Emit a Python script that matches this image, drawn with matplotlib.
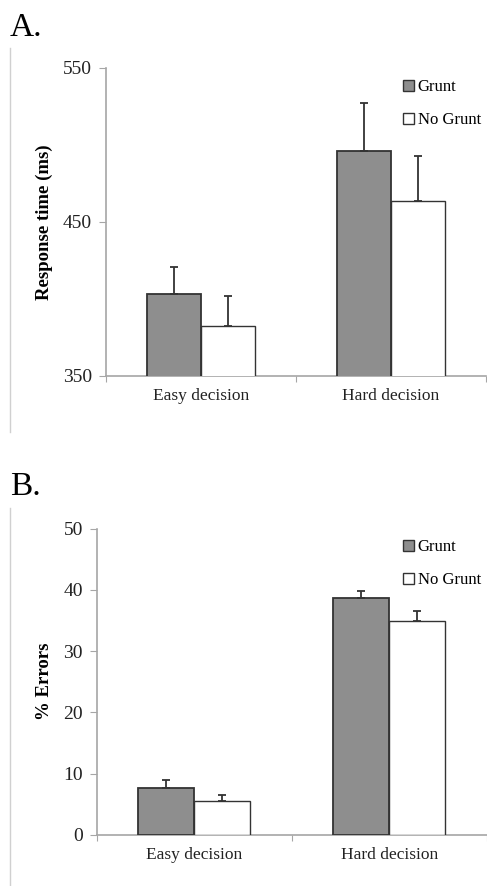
import matplotlib
matplotlib.use("Agg")
import matplotlib.pyplot as plt
import numpy as np
from matplotlib.lines import Line2D
from matplotlib.patches import Patch

categories = ["Easy decision", "Hard decision"]
series = ["Grunt", "No Grunt"]

# Panel A: response time (ms)
rt_grunt = [403, 496]
rt_nogrunt = [382.5, 463.5]
rt_grunt_err = [18, 31]
rt_nogrunt_err = [19.5, 29.5]

# Panel B: % errors
err_grunt = [7.7, 38.7]
err_nogrunt = [5.55, 35.0]
err_grunt_err = [1.3, 1.2]
err_nogrunt_err = [0.95, 1.5]

W, H = 487, 886
fig = plt.figure(figsize=(W / 100, H / 100), dpi=100)
plt.rcParams["font.family"] = ["Liberation Serif", "DejaVu Serif"]

GREY = "#8e8e8e"
EDGE = "#333333"
SPINE = "#a6a6a6"


def draw_panel(rect, g, ng, ge, nge, ylim, yticks, ylabel, bw, leg_y):
    ax = fig.add_axes(rect)
    x = np.arange(len(categories))
    ekw = dict(ecolor=EDGE, elinewidth=1.3, capsize=3, capthick=1.3)
    ax.bar(x - bw / 2, g, bw, color=GREY, edgecolor=EDGE, linewidth=1.3,
           yerr=[np.zeros(len(ge)), ge], error_kw=ekw, zorder=3)
    ax.bar(x + bw / 2, ng, bw, color="white", edgecolor=EDGE, linewidth=1.0,
           yerr=[np.zeros(len(nge)), nge], error_kw=ekw, zorder=3)
    ax.set_xlim(-0.5, len(categories) - 0.5)
    ax.set_ylim(*ylim)
    ax.set_yticks(yticks)
    ax.set_xticks(np.arange(-0.5, len(categories), 1.0))
    ax.set_xticklabels([])
    ax.set_xticks(x, minor=True)
    ax.set_xticklabels(categories, minor=True, fontsize=12.5, color="#222222")
    ax.tick_params(axis="x", which="minor", length=0, pad=9)
    ax.tick_params(axis="x", which="major", length=4, color=SPINE, direction="out")
    ax.tick_params(axis="y", length=5, color=SPINE, labelsize=14, labelcolor="#222222", pad=5)
    for s in ["top", "right"]:
        ax.spines[s].set_visible(False)
    for s in ["left", "bottom"]:
        ax.spines[s].set_color(SPINE)
        ax.spines[s].set_linewidth(1.2)
    ax.set_ylabel(ylabel, fontsize=13.5, fontweight="bold", labelpad=7)
    handles = [Patch(facecolor=GREY, edgecolor=EDGE), Patch(facecolor="white", edgecolor=EDGE)]
    ax.legend(handles, series, loc="upper left", bbox_to_anchor=(395 / W, leg_y),
              bbox_transform=fig.transFigure, frameon=False, fontsize=12,
              handlelength=0.65, handleheight=0.65, handletextpad=0.2,
              labelspacing=1.0, borderpad=0)
    return ax


draw_panel([106 / W, 1 - 376 / H, 380 / W, 308 / H], rt_grunt, rt_nogrunt,
           rt_grunt_err, rt_nogrunt_err, (350, 550), [350, 450, 550],
           "Response time (ms)", 0.284, 1 - 71 / H)
draw_panel([96.7 / W, 1 - 834.7 / H, 390.3 / W, 306 / H], err_grunt, err_nogrunt,
           err_grunt_err, err_nogrunt_err, (0, 50), [0, 10, 20, 30, 40, 50],
           "% Errors", 0.287, 1 - 531 / H)

# panel letters and chart-area frame edges
fig.text(10 / W, 1 - 36 / H, "A.", fontsize=24, ha="left", va="baseline")
fig.text(10 / W, 1 - 495 / H, "B.", fontsize=24, ha="left", va="baseline")
fig.add_artist(Line2D([10 / W, 10 / W], [1 - 48 / H, 1 - 432 / H], color="#d0d0d0", lw=1))
fig.add_artist(Line2D([10 / W, 10 / W], [1 - 508 / H, 0], color="#d0d0d0", lw=1))

fig.savefig("out.png", dpi=100)
